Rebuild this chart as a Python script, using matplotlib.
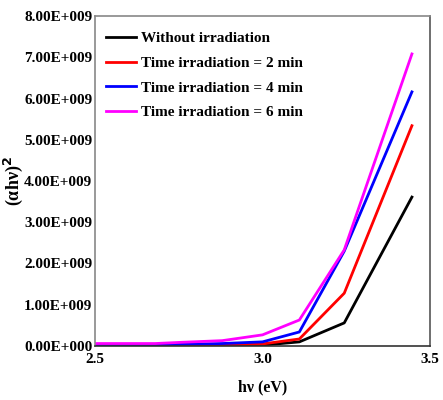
import matplotlib
matplotlib.use("Agg")
import matplotlib.pyplot as plt
from matplotlib.ticker import FuncFormatter

hv = [2.5, 2.68, 2.76, 2.88, 3.0, 3.11, 3.244, 3.446]
without = [0.01e9, 0.01e9, 0.01e9, 0.01e9, 0.02e9, 0.10e9, 0.56e9, 3.61e9]
t2 = [0.02e9, 0.02e9, 0.02e9, 0.03e9, 0.05e9, 0.17e9, 1.28e9, 5.34e9]
t4 = [0.03e9, 0.03e9, 0.04e9, 0.06e9, 0.10e9, 0.34e9, 2.30e9, 6.16e9]
t6 = [0.06e9, 0.06e9, 0.09e9, 0.13e9, 0.27e9, 0.63e9, 2.33e9, 7.08e9]
labels = ["Without irradiation", "Time irradiation = 2 min",
          "Time irradiation = 4 min", "Time irradiation = 6 min"]
colors = ["black", "red", "blue", "magenta"]

plt.rcParams['font.family'] = ['Liberation Serif', 'DejaVu Serif']
plt.rcParams['font.weight'] = 'bold'

fig = plt.figure(figsize=(4.43, 4.0), dpi=100)
ax = fig.add_axes([0.2144, 0.135, 0.7563, 0.825])

for y, lab, c in zip([without, t2, t4, t6], labels, colors):
    ax.plot(hv, y, color=c, lw=2, label=lab)

ax.set_xlim(2.5, 3.5)
ax.set_ylim(0, 8e9)
ax.set_xticks([2.5, 3.0, 3.5])
ax.set_xticklabels(["2.5", "3.0", "3.5"])
ax.set_yticks([i * 1e9 for i in range(9)])
ax.yaxis.set_major_formatter(FuncFormatter(
    lambda v, p: "0.00E+000" if v == 0 else f"{v/1e9:.2f}E+009"))
ax.tick_params(length=0, labelsize=11)
ax.tick_params(axis='y', pad=2)
ax.tick_params(axis='x', pad=5)
for lbl in ax.get_xticklabels() + ax.get_yticklabels():
    lbl.set_fontweight('bold')
for s in ax.spines.values():
    s.set_color('#888888')
    s.set_linewidth(1.2)
ax.spines['bottom'].set_color('#333333')
ax.spines['right'].set_color('#555555')

ax.set_xlabel("hν (eV)", fontsize=11.5, fontweight='bold', labelpad=10)
ax.set_ylabel("(αhν)$^2$", fontsize=13, fontweight='bold', labelpad=-1)

leg = ax.legend(loc='upper left', frameon=False, fontsize=11,
                handlelength=2.0, handletextpad=0.3, labelspacing=0.72,
                borderaxespad=0.3, bbox_to_anchor=(0.0, 0.985))
for t in leg.get_texts():
    t.set_fontweight('bold')

fig.savefig("out.png", dpi=100)
